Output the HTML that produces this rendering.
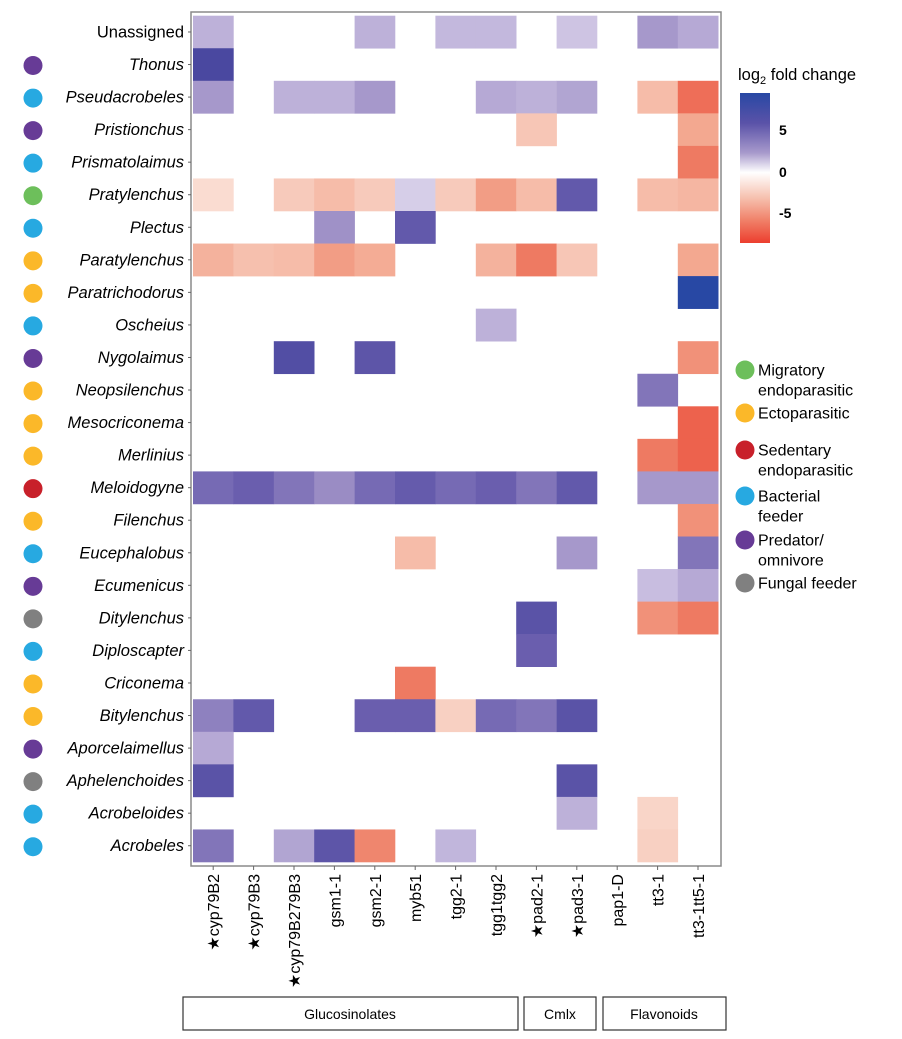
<!DOCTYPE html>
<html><head><meta charset="utf-8"><style>
body{margin:0;background:#fff;}
svg text{font-family:"Liberation Sans",Arial,sans-serif;}
</style></head><body>
<svg id="chart" width="902" height="1034" xmlns="http://www.w3.org/2000/svg">
<g id="cells"></g>
<rect x="191" y="12" width="530" height="854" fill="none" stroke="#8a8a8a" stroke-width="1.5"/>
<g id="rowlabels"></g>
<g id="collabels"></g>
<g>
<defs><linearGradient id="cb" x1="0" y1="0" x2="0" y2="1">
<stop offset="0" stop-color="#2848a4"/><stop offset="0.2" stop-color="#5a52a8"/><stop offset="0.4" stop-color="#a89acc"/><stop offset="0.53" stop-color="#ffffff"/><stop offset="0.7" stop-color="#f6c0ae"/><stop offset="0.85" stop-color="#f08068"/><stop offset="1" stop-color="#ec3e2e"/></linearGradient></defs>
<text x="738" y="80" font-size="16.5">log<tspan font-size="11" dy="4">2</tspan><tspan dy="-4"> fold change</tspan></text>
<rect x="740" y="93" width="30" height="150" fill="url(#cb)"/>
<text x="779" y="135" font-size="14" font-weight="bold">5</text>
<text x="779" y="177" font-size="14" font-weight="bold">0</text>
<text x="779" y="218" font-size="14" font-weight="bold">-5</text>
</g>
<g id="legend"></g>
<g font-size="14">
<rect x="183" y="997" width="335" height="33" fill="none" stroke="#333" stroke-width="1.2"/>
<text x="350" y="1019" text-anchor="middle">Glucosinolates</text>
<rect x="524" y="997" width="72" height="33" fill="none" stroke="#333" stroke-width="1.2"/>
<text x="560" y="1019" text-anchor="middle">Cmlx</text>
<rect x="603" y="997" width="123" height="33" fill="none" stroke="#333" stroke-width="1.2"/>
<text x="664" y="1019" text-anchor="middle">Flavonoids</text>
</g>
</svg>
<script>
const columns=["cyp79B2","cyp79B3","cyp79B279B3","gsm1-1","gsm2-1","myb51","tgg2-1","tgg1tgg2","pad2-1","pad3-1","pap1-D","tt3-1","tt3-1tt5-1"];
const starred=[true,true,true,false,false,false,false,false,true,true,false,false,false];
const rows=["Unassigned","Thonus","Pseudacrobeles","Pristionchus","Prismatolaimus","Pratylenchus","Plectus","Paratylenchus","Paratrichodorus","Oscheius","Nygolaimus","Neopsilenchus","Mesocriconema","Merlinius","Meloidogyne","Filenchus","Eucephalobus","Ecumenicus","Ditylenchus","Diploscapter","Criconema","Bitylenchus","Aporcelaimellus","Aphelenchoides","Acrobeloides","Acrobeles"];
const groups=[null,"P","B","P","B","M","B","E","E","B","P","E","E","E","S","E","B","P","F","B","E","E","P","F","B","B"];
const N=null;
const values=[
[2.5,N,N,N,2.5,N,2.2,2.2,N,1.8,N,3.5,2.8],
[8,N,N,N,N,N,N,N,N,N,N,N,N],
[3.5,N,2.5,2.5,3.5,N,N,2.8,2.5,3,N,-3,-6.5],
[N,N,N,N,N,N,N,N,-2.5,N,N,N,-4],
[N,N,N,N,N,N,N,N,N,N,N,N,-6],
[-1.5,N,-2.3,-3,-2.3,1.5,-2.3,-4.5,-3,6.5,N,-3,-3.3],
[N,N,N,3.8,N,6.5,N,N,N,N,N,N,N],
[-3.5,-2.8,-3,-4.5,-3.8,N,N,-3.5,-6,-2.5,N,N,-4],
[N,N,N,N,N,N,N,N,N,N,N,N,9.5],
[N,N,N,N,N,N,N,2.5,N,N,N,N,N],
[N,N,7.5,N,6.8,N,N,N,N,N,N,N,-5],
[N,N,N,N,N,N,N,N,N,N,N,5,N],
[N,N,N,N,N,N,N,N,N,N,N,N,-7],
[N,N,N,N,N,N,N,N,N,N,N,-6,-7],
[5.5,6,5,4,5.5,6.3,5.5,6,5,6.5,N,3.5,3.5],
[N,N,N,N,N,N,N,N,N,N,N,N,-5],
[N,N,N,N,N,-3,N,N,N,3.5,N,N,5],
[N,N,N,N,N,N,N,N,N,N,N,2,2.8],
[N,N,N,N,N,N,N,N,7,N,N,-5,-6],
[N,N,N,N,N,N,N,N,6,N,N,N,N],
[N,N,N,N,N,-6,N,N,N,N,N,N,N],
[4.5,6.5,N,N,6,6,-2,5.5,5,7,N,N,N],
[2.8,N,N,N,N,N,N,N,N,N,N,N,N],
[7,N,N,N,N,N,N,N,N,7,N,N,N],
[N,N,N,N,N,N,N,N,N,2.5,N,-1.8,N],
[5,N,3,6.8,-5.5,N,2.3,N,N,N,N,-2,N]];
const legendKeys=["M","E","S","B","P","F"];
const legendLabels=[["Migratory","endoparasitic"],["Ectoparasitic"],["Sedentary","endoparasitic"],["Bacterial","feeder"],["Predator/","omnivore"],["Fungal feeder"]];
const legendY=[370,413,450,496,540,583];

const groupColor={M:"#6dbf5b",E:"#fbb829",S:"#c8202a",B:"#27a9e1",P:"#673b96",F:"#808080"};
const X0=193,Y0=15.7,CW=40.4,RH=32.55;
const xPos=i=>X0+i*CW, yPos=j=>Y0+j*RH;
const posStops=[[0,[255,255,255]],[2,[200,189,224]],[4,[154,140,196]],[6,[106,94,174]],[8,[74,72,160]],[9.5,[40,72,164]]];
const negStops=[[0,[255,255,255]],[2,[248,208,194]],[4,[243,168,144]],[6,[238,122,98]],[8.5,[236,62,46]]];
function color(v){const s=v>=0?posStops:negStops;const a=Math.abs(v);
for(let k=1;k<s.length;k++){if(a<=s[k][0]||k==s.length-1){const t=Math.min(1,(a-s[k-1][0])/(s[k][0]-s[k-1][0]));
const c=s[k-1][1].map((x,i)=>Math.round(x+(s[k][1][i]-x)*t));return `rgb(${c})`;}}}
const NS="http://www.w3.org/2000/svg";
function mk(tag,attrs,parent){const e=document.createElementNS(NS,tag);for(const k in attrs)e.setAttribute(k,attrs[k]);parent.appendChild(e);return e;}
const cells=document.getElementById('cells');
values.forEach((r,j)=>r.forEach((v,i)=>{if(v===null)return;
const e=mk('rect',{x:xPos(i),y:yPos(j),width:CW+0.3,height:RH+0.3,fill:color(v)},cells);

}));
const rl=document.getElementById('rowlabels');
rows.forEach((n,j)=>{const cy=yPos(j)+RH/2;
const t=mk('text',{x:184,y:cy+5.5,'text-anchor':'end','font-size':16.5,'font-style':j==0?'normal':'italic'},rl);t.textContent=n;


mk('line',{x1:188,x2:191,y1:cy,y2:cy,stroke:'#666'},rl);
if(groups[j]){const c=mk('circle',{cx:33,cy:cy+1,r:9.5,fill:groupColor[groups[j]]},rl);

}});
const cl=document.getElementById('collabels');
columns.forEach((n,i)=>{const cx=xPos(i)+CW/2;
mk('line',{x1:cx,x2:cx,y1:866,y2:870,stroke:'#666'},cl);
const t=mk('text',{x:0,y:0,'text-anchor':'end','font-size':16,transform:`translate(${cx+6},874) rotate(-90)`},cl);
t.textContent=(starred[i]?'★':'')+n;

});
const lg=document.getElementById('legend');
legendKeys.forEach((k,i)=>{const y=legendY[i];
const c=mk('circle',{cx:745,cy:y,r:9.5,fill:groupColor[k]},lg);


legendLabels[i].forEach((l,m)=>{const t=mk('text',{x:758,y:y+5.5+m*20,'font-size':16},lg);t.textContent=l;

});});
</script>
</body></html>
